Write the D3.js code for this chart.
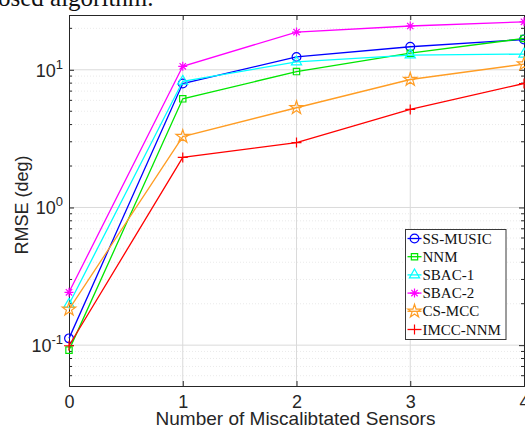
<!DOCTYPE html>
<html>
<head>
<meta charset="utf-8">
<script src="https://cdn.jsdelivr.net/npm/d3@7"></script>
<style>
  body { margin: 0; background: #fff; }
  svg { display: block; }
</style>
</head>
<body>
<div id="chart"></div>
<script>
// number of miscalibrated sensors
const sensors = [0, 1, 2, 3, 4];

// RMSE (deg) per method
const ssMusic = [0.112, 7.95, 12.4, 14.7, 16.6];
const nnm     = [0.092, 6.15, 9.7, 13.2, 16.9];
const sbac1   = [0.198, 8.25, 11.4, 12.8, 13.0];
const sbac2   = [0.242, 10.6, 18.8, 20.8, 22.3];
const csMcc   = [0.182, 3.27, 5.3, 8.5, 11.0];
const imccNnm = [0.099, 2.31, 2.96, 5.15, 7.95];

const seriesNames = ["SS-MUSIC", "NNM", "SBAC-1", "SBAC-2", "CS-MCC", "IMCC-NNM"];
const yTickExps = [-1, 0, 1];

const series = [
  { name: seriesNames[0], values: ssMusic, color: "#0000ff", marker: "circle" },
  { name: seriesNames[1], values: nnm,     color: "#00e600", marker: "square" },
  { name: seriesNames[2], values: sbac1,   color: "#00ffff", marker: "triangle" },
  { name: seriesNames[3], values: sbac2,   color: "#ff00ff", marker: "asterisk" },
  { name: seriesNames[4], values: csMcc,   color: "#ff9d24", marker: "star" },
  { name: seriesNames[5], values: imccNnm, color: "#ff0000", marker: "plus" }
];

const W = 525, H = 430;
const margin = { top: 15, right: 1, bottom: 44, left: 69 };
const innerW = W - margin.left - margin.right;
const innerH = H - margin.top - margin.bottom;

const svg = d3.select("#chart").append("svg")
  .attr("width", W)
  .attr("height", H);

// caption remnant from the paper above the figure
svg.append("text")
  .attr("x", -2)
  .attr("y", 6)
  .attr("font-family", "Liberation Serif, Times New Roman, serif")
  .attr("font-size", 25)
  .attr("fill", "#111")
  .text("osed algorithm.");

const g = svg.append("g")
  .attr("transform", `translate(${margin.left},${margin.top})`);

const x = d3.scaleLinear().domain([0, 4]).range([0, innerW]);
const y = d3.scaleLog().domain([0.0505, 25]).range([innerH, 0]);

// minor ticks 2..9 per decade
const minorVals = [];
[-2, -1, 0, 1].forEach(e => {
  for (let m = 2; m <= 9; m++) {
    const v = m * Math.pow(10, e);
    if (v > y.domain()[0] && v < y.domain()[1]) minorVals.push(v);
  }
});
const majorVals = yTickExps.map(e => Math.pow(10, e));

// grid
g.append("g").selectAll("line").data(minorVals).join("line")
  .attr("x1", 0).attr("x2", innerW)
  .attr("y1", d => y(d)).attr("y2", d => y(d))
  .attr("stroke", "#e4e4e4").attr("stroke-width", 0.8)
  .attr("stroke-dasharray", "1,2");

g.append("g").selectAll("line").data(majorVals).join("line")
  .attr("x1", 0).attr("x2", innerW)
  .attr("y1", d => y(d)).attr("y2", d => y(d))
  .attr("stroke", "#dadada").attr("stroke-width", 1);

g.append("g").selectAll("line").data([1, 2, 3]).join("line")
  .attr("x1", d => x(d)).attr("x2", d => x(d))
  .attr("y1", 0).attr("y2", innerH)
  .attr("stroke", "#dadada").attr("stroke-width", 1);

// axes
const axisColor = "#262626";
const leftAxis = d3.axisLeft(y).tickValues(majorVals).tickSize(-5).tickFormat("");
const rightAxis = d3.axisRight(y).tickValues(majorVals).tickSize(-5).tickFormat("");
const bottomAxis = d3.axisBottom(x).tickValues(sensors).tickSize(-5).tickFormat(d3.format("d"));
const topAxis = d3.axisTop(x).tickValues(sensors).tickSize(-5).tickFormat("");

function styleAxis(sel) {
  sel.select(".domain").attr("stroke", axisColor);
  sel.selectAll(".tick line").attr("stroke", axisColor);
}

g.append("g").call(leftAxis).call(styleAxis);
g.append("g").attr("transform", `translate(${innerW},0)`).call(rightAxis).call(styleAxis);
g.append("g").call(topAxis).call(styleAxis);
const bx = g.append("g").attr("transform", `translate(0,${innerH})`).call(bottomAxis).call(styleAxis);
bx.selectAll(".tick text")
  .attr("font-family", "Liberation Sans, Arial, sans-serif")
  .attr("font-size", 18)
  .attr("fill", "#262626")
  .attr("y", 0)
  .attr("dy", 22);

// minor ticks on left and right
g.append("g").selectAll("line").data(minorVals).join("line")
  .attr("x1", 0).attr("x2", 3)
  .attr("y1", d => y(d)).attr("y2", d => y(d))
  .attr("stroke", axisColor);
g.append("g").selectAll("line").data(minorVals).join("line")
  .attr("x1", innerW - 3).attr("x2", innerW)
  .attr("y1", d => y(d)).attr("y2", d => y(d))
  .attr("stroke", axisColor);

// y tick labels 10^n
const yl = g.append("g").selectAll("text").data(yTickExps).join("text")
  .attr("x", -6)
  .attr("y", d => y(Math.pow(10, d)) + 7)
  .attr("text-anchor", "end")
  .attr("font-family", "Liberation Sans, Arial, sans-serif")
  .attr("font-size", 18)
  .attr("fill", "#262626");
yl.append("tspan").text("10");
yl.append("tspan").attr("dy", -8).attr("font-size", 13).text(d => d);

// axis titles
svg.append("text")
  .attr("x", margin.left + innerW / 2 - 1)
  .attr("y", 425)
  .attr("text-anchor", "middle")
  .attr("font-family", "Liberation Sans, Arial, sans-serif")
  .attr("font-size", 19)
  .attr("fill", "#262626")
  .text("Number of Miscalibtated Sensors");

svg.append("text")
  .attr("transform", "translate(28,205) rotate(-90)")
  .attr("text-anchor", "middle")
  .attr("font-family", "Liberation Sans, Arial, sans-serif")
  .attr("font-size", 18)
  .attr("fill", "#262626")
  .text("RMSE (deg)");

// marker shapes
function markerPath(type) {
  switch (type) {
    case "circle": return d3.symbol(d3.symbolCircle, 60)();
    case "square": return d3.symbol(d3.symbolSquare, 40)();
    case "triangle": return d3.symbol(d3.symbolTriangle, 45)();
    case "star": return d3.symbol(d3.symbolStar, 55)();
    case "asterisk": {
      const r = 4.5, p = d3.path();
      for (let k = 0; k < 4; k++) {
        const a = k * Math.PI / 4;
        p.moveTo(-r * Math.cos(a), -r * Math.sin(a));
        p.lineTo(r * Math.cos(a), r * Math.sin(a));
      }
      return p.toString();
    }
    case "plus": {
      const r = 5, p = d3.path();
      p.moveTo(-r, 0); p.lineTo(r, 0);
      p.moveTo(0, -r); p.lineTo(0, r);
      return p.toString();
    }
  }
}

const line = d3.line()
  .x((d, i) => x(sensors[i]))
  .y(d => y(d));

const plot = g.append("g");
series.forEach(s => {
  plot.append("path")
    .attr("d", line(s.values))
    .attr("fill", "none")
    .attr("stroke", s.color)
    .attr("stroke-width", 1.3);
  plot.append("g").selectAll("path").data(s.values).join("path")
    .attr("transform", (d, i) => `translate(${x(sensors[i])},${y(d)})`)
    .attr("d", markerPath(s.marker))
    .attr("fill", "none")
    .attr("stroke", s.color)
    .attr("stroke-width", 1.2);
});

// legend
const lg = svg.append("g").attr("transform", "translate(405.5,229.5)");
lg.append("rect")
  .attr("width", 100.5).attr("height", 110)
  .attr("fill", "#fff")
  .attr("stroke", "#3a3a3a").attr("stroke-width", 1);
series.forEach((s, i) => {
  const row = lg.append("g").attr("transform", `translate(0,${9 + i * 18.2})`);
  row.append("line")
    .attr("x1", 2).attr("x2", 16)
    .attr("stroke", s.color).attr("stroke-width", 1.3);
  row.append("path")
    .attr("transform", "translate(9,0)")
    .attr("d", markerPath(s.marker))
    .attr("fill", "none")
    .attr("stroke", s.color)
    .attr("stroke-width", 1.2);
  row.append("text")
    .attr("x", 17)
    .attr("y", 5)
    .attr("font-family", "Liberation Serif, Times New Roman, serif")
    .attr("font-size", 15)
    .attr("fill", "#111")
    .text(s.name);
});
</script>
</body>
</html>
